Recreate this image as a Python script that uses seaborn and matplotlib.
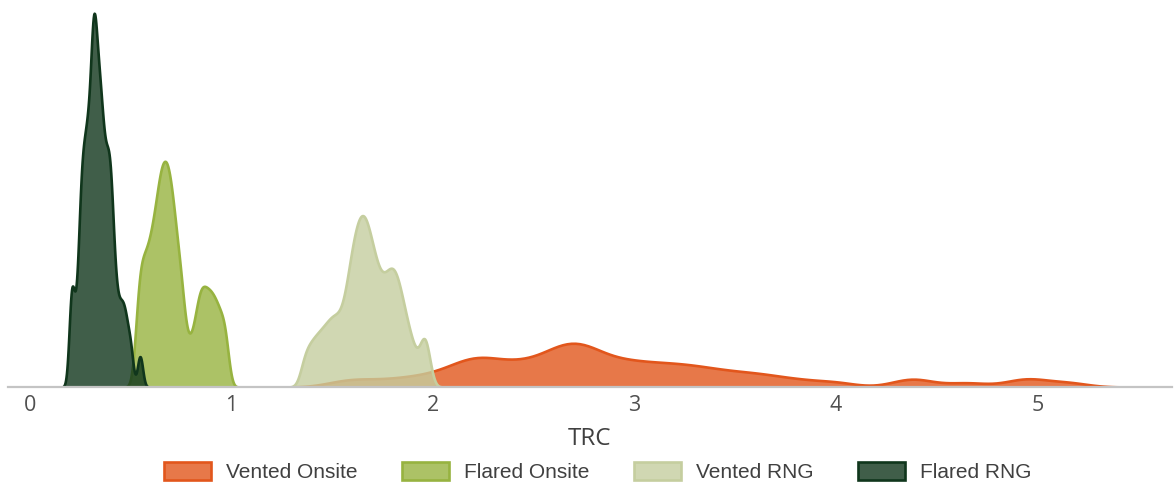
import numpy as np
import pandas as pd
import matplotlib
matplotlib.use("Agg")
import matplotlib.pyplot as plt
from matplotlib.colors import to_rgba, to_rgb
from matplotlib.patches import Patch
import seaborn as sns

# TRC observations per configuration
vented_onsite = [1.55, 1.656, 1.789, 1.892, 1.976, 2.043, 2.107, 2.139, 2.169, 2.199,
                 2.229, 2.257, 2.284, 2.312, 2.367, 2.403, 2.438, 2.471, 2.505, 2.560,
                 2.580, 2.602, 2.622, 2.643, 2.664, 2.685, 2.705, 2.725, 2.744, 2.764,
                 2.784, 2.803, 2.827, 2.881, 2.911, 2.942, 2.976, 3.015, 3.054, 3.094,
                 3.134, 3.174, 3.215, 3.256, 3.298, 3.346, 3.396, 3.451, 3.514, 3.580,
                 3.645, 3.729, 3.844, 4.000, 4.360, 4.400, 4.650, 4.920, 4.970, 5.150]
flared_onsite = [0.530, 0.538, 0.546, 0.5535, 0.561, 0.5685, 0.576, 0.583, 0.590, 0.597,
                 0.6035, 0.6095, 0.6155, 0.621, 0.6265, 0.632, 0.637, 0.6415, 0.646, 0.6505,
                 0.655, 0.659, 0.6635, 0.668, 0.672, 0.676, 0.6805, 0.685, 0.689, 0.6935,
                 0.698, 0.703, 0.708, 0.713, 0.7185, 0.7245, 0.731, 0.738, 0.746, 0.755,
                 0.762, 0.783, 0.804, 0.8215, 0.833, 0.8435, 0.853, 0.862, 0.872, 0.882,
                 0.892, 0.902, 0.9125, 0.9235, 0.935, 0.9475, 0.962, 0.975]
vented_rng = [1.360, 1.385, 1.4065, 1.4255, 1.4435, 1.460, 1.4756, 1.4905, 1.504, 1.5175,
              1.531, 1.545, 1.558, 1.569, 1.5785, 1.587, 1.5945, 1.6015, 1.608, 1.6145,
              1.6205, 1.6265, 1.632, 1.638, 1.6435, 1.649, 1.6545, 1.660, 1.6655, 1.671,
              1.677, 1.683, 1.6895, 1.696, 1.703, 1.710, 1.7175, 1.7255, 1.734, 1.743,
              1.752, 1.761, 1.770, 1.7785, 1.7865, 1.7945, 1.8025, 1.8105, 1.8185, 1.827,
              1.8365, 1.8465, 1.858, 1.8715, 1.888, 1.910, 1.945, 1.958, 1.972]
flared_rng = [0.203, 0.207, 0.211, 0.228, 0.240, 0.2465, 0.251, 0.255, 0.259, 0.263,
              0.267, 0.271, 0.275, 0.279, 0.283, 0.2865, 0.290, 0.293, 0.296, 0.302,
              0.3045, 0.307, 0.310, 0.3125, 0.315, 0.3165, 0.318, 0.3205, 0.323, 0.326,
              0.329, 0.332, 0.335, 0.338, 0.341, 0.344, 0.347, 0.350, 0.3535, 0.357,
              0.3605, 0.364, 0.368, 0.372, 0.377, 0.381, 0.385, 0.389, 0.393, 0.397,
              0.401, 0.405, 0.4095, 0.416, 0.425, 0.435, 0.447, 0.458, 0.469, 0.482,
              0.500, 0.546]

series_names = ["Vented Onsite", "Flared Onsite", "Vented RNG", "Flared RNG"]
series_values = [vented_onsite, flared_onsite, vented_rng, flared_rng]
x_ticks = [0, 1, 2, 3, 4, 5]

# kernel bandwidth of each curve, in TRC units
bandwidths = [0.10, 0.018, 0.023, 0.013]
colors = ["#E2561C", "#97B340", "#C5CE9F", "#10361C"]
palette = dict(zip(series_names, colors))

# the series have distinct sizes, so the sample count picks the bandwidth
bw_by_count = {len(v): bw for v, bw in zip(series_values, bandwidths)}


def kde_factor(kde):
    return bw_by_count[kde.n] / np.std(kde.dataset, ddof=1)


df = pd.DataFrame({
    "TRC": np.concatenate([np.asarray(v, dtype=float) for v in series_values]),
    "Configuration": np.repeat(series_names, [len(v) for v in series_values]),
})

sns.set_theme(style="white")
plt.rcParams["font.family"] = ["Open Sans", "DejaVu Sans"]

W, H = 1174, 484
fig = plt.figure(figsize=(W / 100, H / 100), dpi=100)
ax = fig.add_axes([8 / W, 97 / H, 1164 / W, 382 / H])

sns.kdeplot(data=df, x="TRC", hue="Configuration", hue_order=series_names,
            palette=palette, fill=True, alpha=0.8, linewidth=1.9,
            common_norm=True, bw_method=kde_factor, legend=False, ax=ax)

# stack the filled curves: onsite below, RNG on top
for coll in ax.collections:
    fc = to_rgb(coll.get_facecolor()[0])
    for i, name in enumerate(series_names):
        if np.allclose(fc, to_rgb(palette[name]), atol=0.01):
            coll.set_zorder(1 + i * 0.1)

ax.set_xlim(-0.109, 5.667)
ax.set_ylim(0, 1.6145)
ax.set_yticks([])
ax.set_ylabel("")
ax.set_xticks(x_ticks)
ax.set_xticklabels([str(t) for t in x_ticks])
ax.tick_params(axis="x", length=0, pad=6, labelsize=15.5, labelcolor="#505050")

for side in ["left", "right", "top"]:
    ax.spines[side].set_visible(False)
ax.spines["bottom"].set_color("#C4C4C4")
ax.spines["bottom"].set_linewidth(1.6)
ax.spines["bottom"].set_zorder(5)

ax.set_xlabel("TRC", fontsize=17.5, color="#404040", labelpad=8)

handles = [Patch(facecolor=to_rgba(c, 0.8), edgecolor=c, linewidth=1.9, label=n)
           for n, c in zip(series_names, colors)]
ax.legend(handles=handles, loc="center", bbox_to_anchor=(0.509, 0.025),
          bbox_transform=fig.transFigure, ncol=4, frameon=False,
          prop={"family": "Liberation Sans", "size": 15},
          handlelength=2.25, handleheight=0.95, handletextpad=0.72,
          columnspacing=2.15, labelcolor="#404040")

fig.savefig("out.png", dpi=100)
